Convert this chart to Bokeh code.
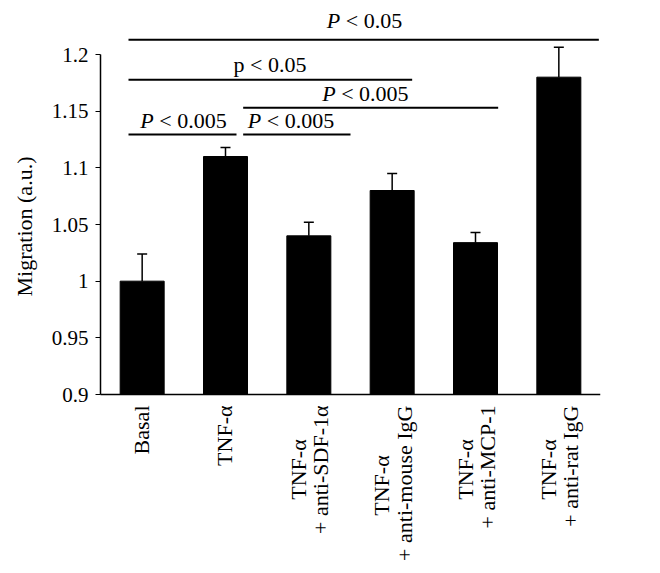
import math
from bokeh.plotting import figure
from bokeh.models import (Range1d, FixedTicker, CustomJSTickFormatter,
                          ColumnDataSource, Whisker, TeeHead)
from bokeh.core.properties import value
from bokeh.embed import file_html
from bokeh.resources import INLINE

# ---------------- data ----------------
groups = ["Basal", "TNF-α", "TNF-α + anti-SDF-1α", "TNF-α + anti-mouse IgG",
          "TNF-α + anti-MCP-1", "TNF-α + anti-rat IgG"]
label_line1 = ["", "", "TNF-α", "TNF-α", "TNF-α", "TNF-α"]
label_line2 = ["Basal", "TNF-α", "+ anti-SDF-1α", "+ anti-mouse IgG",
               "+ anti-MCP-1", "+ anti-rat IgG"]
migration = [1.0, 1.11, 1.04, 1.08, 1.034, 1.18]
error_up = [0.024, 0.008, 0.012, 0.015, 0.009, 0.0265]
y_ticks = [0.9, 0.95, 1.0, 1.05, 1.1, 1.15, 1.2]
y_title = "Migration (a.u.)"

# significance brackets (x in group-index units, y in data units)
sig_x0 = [-0.164, -0.164, 1.212, -0.164, 1.212]
sig_x1 = [5.48, 3.24, 4.272, 1.132, 2.5]
sig_y = [1.213, 1.1777, 1.153, 1.1294, 1.1294]
sig_tx = [2.668, 1.534, 2.678, 0.496, 1.786]
sig_p = ["P", "p", "P", "P", "P"]
sig_rest = ["< 0.05", "< 0.05", "< 0.005", "< 0.005", "< 0.005"]

FONT = "Liberation Serif"

# ---------------- layout constants (pixels) ----------------
W, H = 652, 565
LEFT, RIGHT_EDGE, AXIS_Y = 100, 600, 394
PX_PER_Y = 1133.33          # pixels per 1.0 of migration
PX_PER_X = (RIGHT_EDGE - LEFT) / 6.0


def dy(px):  # pixel distance -> data distance (y)
    return px / PX_PER_Y


def dx(px):
    return px / PX_PER_X


y0 = y_ticks[0]
x_left = -0.5
p = figure(width=W, height=H, output_backend="svg", toolbar_location=None,
           x_range=Range1d(x_left - dx(LEFT), 5.5),
           y_range=Range1d(y0 - dy(H - AXIS_Y), y0 + dy(AXIS_Y)),
           min_border_left=0, min_border_right=W - RIGHT_EDGE,
           min_border_top=0, min_border_bottom=0)
p.outline_line_color = None
p.xgrid.visible = False
p.ygrid.visible = False
p.background_fill_color = "white"
p.border_fill_color = "white"

xs = list(range(len(groups)))
src = ColumnDataSource(dict(
    x=xs, top=migration,
    upper=[m + e for m, e in zip(migration, error_up)],
    lower=migration))

p.vbar(x="x", top="top", bottom=y0, width=0.528, source=src,
       fill_color="black", line_color="black")

wh = Whisker(source=src, base="x", upper="upper", lower="lower",
             dimension="height", line_color="black", line_width=1.5,
             upper_head=TeeHead(size=10, line_color="black", line_width=1.5),
             lower_head=None)
p.add_layout(wh)

# x axis: a plain line at 0.9 (no ticks, labels drawn below as rotated text)
p.xaxis.fixed_location = y0
p.xaxis.bounds = (x_left, 5.5)
p.xaxis.ticker = FixedTicker(ticks=[])
p.xaxis.major_tick_line_color = None
p.xaxis.minor_tick_line_color = None
p.xaxis.major_tick_out = 0
p.xaxis.major_tick_in = 0
p.xaxis.minor_tick_out = 0
p.xaxis.major_label_text_font_size = "0px"
p.xaxis.axis_line_color = "black"
p.xaxis.axis_line_width = 1.5

# y axis
p.yaxis.fixed_location = x_left
p.yaxis.ticker = FixedTicker(ticks=y_ticks)
p.yaxis.bounds = (y_ticks[0], y_ticks[-1])
p.yaxis.formatter = CustomJSTickFormatter(code="return String(Math.round(tick*100)/100);")
p.yaxis.minor_tick_line_color = None
p.yaxis.major_tick_out = 5
p.yaxis.major_tick_in = 0
p.yaxis.major_tick_line_width = 1.2
p.yaxis.axis_line_width = 1.5
p.yaxis.major_label_standoff = 7
p.yaxis.major_label_text_font = FONT
p.yaxis.major_label_text_font_size = "21px"
p.yaxis.major_label_text_color = "black"

# y-axis title
p.text(x=[x_left - dx(76.5)], y=[y0 + dy(168)], text=[y_title], angle=math.pi / 2,
       text_align="center", text_baseline="middle", text_font=value(FONT),
       text_font_size="22px", text_color="black")

# x category labels (rotated), each line as its own text
line1_down = [0, 0, 75, 91, 75, 75]
l1x, l1y, l1t = [], [], []
l2x, l2y, l2t = [], [], []
for i in xs:
    if label_line1[i]:
        l1x.append(i - dx(10.5)); l1y.append(y0 - dy(line1_down[i])); l1t.append(label_line1[i])
        l2x.append(i + dx(12))
    else:
        l2x.append(i + dx(-1))
    l2y.append(y0 - dy(11)); l2t.append(label_line2[i])

p.text(x=l1x, y=l1y, text=l1t, angle=math.pi / 2, text_align="center",
       text_baseline="middle", text_font=value(FONT), text_font_size="22px",
       text_color="black")
p.text(x=l2x, y=l2y, text=l2t, angle=math.pi / 2, text_align="right",
       text_baseline="middle", text_font=value(FONT), text_font_size="22px",
       text_color="black")

# significance brackets
p.segment(x0=sig_x0, x1=sig_x1, y0=sig_y, y1=sig_y, line_color="black", line_width=1.8)
base_off = [19.5, 15.1, 14.1, 14.2, 14.2]
pi_x, pi_y, pi_t = [], [], []
r_x, r_y, r_t = [], [], []
c_x, c_y, c_t = [], [], []
for k in range(len(sig_y)):
    yy = sig_y[k] + dy(base_off[k])
    if sig_p[k] == "P":
        wtxt = 75.4 if sig_rest[k] == "< 0.05" else 86.4
        pi_x.append(sig_tx[k] - dx(wtxt / 2)); pi_y.append(yy); pi_t.append(sig_p[k])
        r_x.append(sig_tx[k] + dx(wtxt / 2)); r_y.append(yy); r_t.append(sig_rest[k])
    else:
        c_x.append(sig_tx[k]); c_y.append(yy); c_t.append(sig_p[k] + " " + sig_rest[k])

p.text(x=pi_x, y=pi_y, text=pi_t, text_align="left", text_baseline="alphabetic",
       text_font=value(FONT), text_font_style="italic", text_font_size="22px",
       text_color="black")
p.text(x=r_x, y=r_y, text=r_t, text_align="right", text_baseline="alphabetic",
       text_font=value(FONT), text_font_size="22px", text_color="black")
p.text(x=c_x, y=c_y, text=c_t, text_align="center", text_baseline="alphabetic",
       text_font=value(FONT), text_font_size="22px", text_color="black")

open("out.html", "w").write(file_html(p, INLINE))
